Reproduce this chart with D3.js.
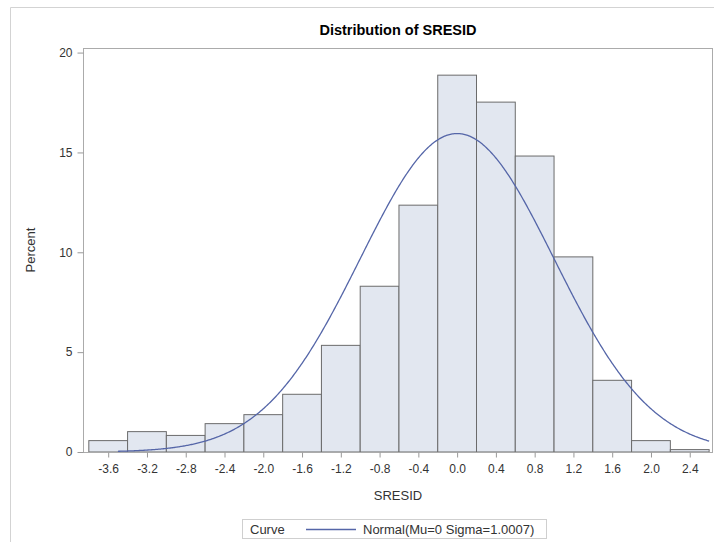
<!DOCTYPE html>
<html lang="en">
<head>
    <meta charset="UTF-8">
    <title>Distribution of SRESID</title>
    <style>
        body { margin: 0; background: #fff; }
        text { font-family: "Liberation Sans", Arial, sans-serif; fill: #333; }
    </style>
</head>
<body>
    <svg id="chart" width="714" height="542"></svg>
    <script src="https://d3js.org/d3.v7.min.js"></script>
    <script>
        // bin midpoints (width 0.4) and percent in each bin
        var binMids = [-3.6, -3.2, -2.8, -2.4, -2.0, -1.6, -1.2, -0.8, -0.4, 0.0, 0.4, 0.8, 1.2, 1.6, 2.0, 2.4];
        var percents = [0.57, 1.02, 0.83, 1.42, 1.87, 2.89, 5.34, 8.30, 12.36, 18.87, 17.52, 14.82, 9.77, 3.59, 0.57, 0.12];
        var binWidth = 0.4;
        var xTicks = [-3.6, -3.2, -2.8, -2.4, -2.0, -1.6, -1.2, -0.8, -0.4, 0.0, 0.4, 0.8, 1.2, 1.6, 2.0, 2.4];
        var yTicks = [0, 5, 10, 15, 20];
        // fitted normal curve
        var mu = 0, sigma = 1.0007;
        var curveRange = [-3.5, 2.6];

        var svg = d3.select("#chart");

        var plotLeft = 83, plotRight = 713, plotTop = 48, plotBottom = 452;

        var x = d3.scaleLinear().domain([-3.86, 2.64]).range([plotLeft, plotRight]);
        var y = d3.scaleLinear().domain([0, 20.23]).range([plotBottom, plotTop]);

        // outer border
        svg.append("path")
           .attr("d", "M10.5,542 V7.5 H714")
           .attr("fill", "none")
           .attr("stroke", "#d3d3d3");

        // title
        svg.append("text")
           .attr("x", 398)
           .attr("y", 35)
           .attr("text-anchor", "middle")
           .style("font-size", "14.5px")
           .style("font-weight", "bold")
           .style("fill", "#000")
           .text("Distribution of SRESID");

        // bars
        svg.selectAll(".bar")
           .data(binMids)
           .enter().append("rect")
           .attr("class", "bar")
           .attr("x", function(d) { return x(d - binWidth / 2); })
           .attr("y", function(d, i) { return y(percents[i]); })
           .attr("width", function(d) { return x(d + binWidth / 2) - x(d - binWidth / 2); })
           .attr("height", function(d, i) { return y(0) - y(percents[i]); })
           .attr("fill", "#e2e7f0")
           .attr("stroke", "#6b6b6b")
           .attr("stroke-width", 1);

        // normal curve
        var pts = [];
        for (var v = curveRange[0]; v <= curveRange[1] + 1e-9; v += 0.01) {
            var dens = Math.exp(-0.5 * Math.pow((v - mu) / sigma, 2)) / (sigma * Math.sqrt(2 * Math.PI));
            pts.push([v, dens * binWidth * 100]);
        }
        svg.append("path")
           .datum(pts)
           .attr("fill", "none")
           .attr("stroke", "#5566a8")
           .attr("stroke-width", 1.3)
           .attr("d", d3.line().x(function(d) { return x(d[0]); }).y(function(d) { return y(d[1]); }));

        // frame
        svg.append("rect")
           .attr("x", plotLeft + 0.5)
           .attr("y", plotTop + 0.5)
           .attr("width", plotRight - plotLeft - 1)
           .attr("height", plotBottom - plotTop)
           .attr("fill", "none")
           .attr("stroke", "#ababab");

        var fmtX = function(d) { return d3.format(".1f")(d).replace("\u2212", "-"); };

        // y axis
        var yAxis = svg.append("g")
           .attr("transform", "translate(" + (plotLeft + 0.5) + ",0)")
           .call(d3.axisLeft(y).tickValues(yTicks).tickSize(6).tickPadding(5).tickFormat(d3.format("d")));
        // x axis
        var xAxis = svg.append("g")
           .attr("transform", "translate(0," + (plotBottom + 0.5) + ")")
           .call(d3.axisBottom(x).tickValues(xTicks).tickSize(5).tickPadding(7).tickFormat(fmtX));

        [yAxis, xAxis].forEach(function(a) {
            a.select(".domain").remove();
            a.selectAll(".tick line").attr("stroke", "#999");
            a.selectAll(".tick text")
             .style("font-family", "'Liberation Sans', Arial, sans-serif")
             .style("font-size", "12px")
             .attr("fill", "#333");
        });

        // axis labels
        svg.append("text")
           .attr("transform", "translate(35,250) rotate(-90)")
           .attr("text-anchor", "middle")
           .style("font-size", "13px")
           .text("Percent");

        svg.append("text")
           .attr("x", 398)
           .attr("y", 500)
           .attr("text-anchor", "middle")
           .style("font-size", "13px")
           .text("SRESID");

        // legend
        svg.append("rect")
           .attr("x", 242.5)
           .attr("y", 519.5)
           .attr("width", 304)
           .attr("height", 19)
           .attr("fill", "none")
           .attr("stroke", "#cfcfcf");
        svg.append("text")
           .attr("x", 250)
           .attr("y", 534)
           .style("font-size", "13px")
           .text("Curve");
        svg.append("line")
           .attr("x1", 306).attr("x2", 356)
           .attr("y1", 529.5).attr("y2", 529.5)
           .attr("stroke", "#5566a8")
           .attr("stroke-width", 1.3);
        svg.append("text")
           .attr("x", 363)
           .attr("y", 534)
           .style("font-size", "13px")
           .text("Normal(Mu=" + mu + " Sigma=" + sigma + ")");
    </script>
</body>
</html>
